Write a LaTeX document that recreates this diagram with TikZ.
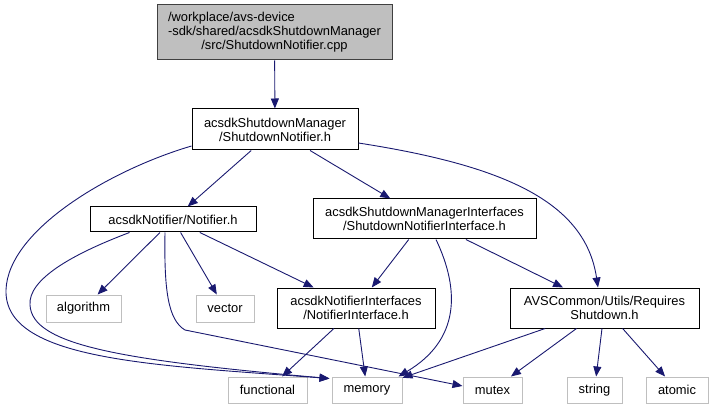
\documentclass[tikz,border=0pt]{standalone}
\usepackage{fontspec}
\setmainfont{Liberation Sans}
\usetikzlibrary{arrows.meta,positioning,calc}
\definecolor{edgeblue}{HTML}{191970}
\definecolor{sysgray}{HTML}{BFBFBF}
\definecolor{rootborder}{HTML}{404040}
\newlength\rootlinew

\begin{document}
\begin{tikzpicture}[
x=1pt, y=-1pt,
font=\fontsize{12.9}{14}\selectfont,
box/.style={draw=black, line width=1pt, inner sep=0pt, align=center},
sysbox/.style={draw=sysgray, line width=1pt, inner sep=0pt, minimum height=26pt},
arr/.style={-{Triangle[length=10pt,width=8pt]}, draw=edgeblue, line width=0.9pt}
]
\useasboundingbox (0,0) rectangle (713,409);

% files
\node[box, fill=sysgray, draw=rootborder, minimum width=235pt, minimum height=55pt] (root) at (274.5,32.5)
  {\settowidth\rootlinew{-sdk/shared/acsdkShutdownManager}%
   \makebox[\rootlinew][l]{/workplace/avs-device}\\-sdk/shared/acsdkShutdownManager\\/src/ShutdownNotifier.cpp};
\node[box, minimum width=166pt, minimum height=41pt] (sn) at (275,129.5) {acsdkShutdownManager\\/ShutdownNotifier.h};
\node[box, minimum width=166pt, minimum height=25pt] (notif) at (173,219.5) {acsdkNotifier/Notifier.h};
\node[box, minimum width=223pt, minimum height=40pt] (sni) at (424.5,219) {acsdkShutdownManagerInterfaces\\/ShutdownNotifierInterface.h};
\node[box, minimum width=158pt, minimum height=40pt] (ni) at (356,308) {acsdkNotifierInterfaces\\/NotifierInterface.h};
\node[box, minimum width=189pt, minimum height=40pt] (rs) at (604.5,308) {AVSCommon/Utils/Requires\\Shutdown.h};

% system headers
\node[sysbox, minimum width=75pt, minimum height=27pt] (algorithm) at (83.5,308.5) {algorithm};
\node[sysbox, minimum width=58pt, minimum height=27pt] (vector) at (225,308.5) {vector};
\node[sysbox, minimum width=79pt] (functional) at (267.5,390) {functional};
\node[sysbox, minimum width=70pt] (memory) at (367,390) {memory};
\node[sysbox, minimum width=59pt] (mutex) at (492.5,390) {mutex};
\node[sysbox, minimum width=55pt] (string) at (594.5,390) {string};
\node[sysbox, minimum width=62pt] (atomic) at (677,390) {atomic};

% includes
\draw[arr] (root) -- (sn);
\draw[arr] (sn) -- (notif);
\draw[arr] (sn) -- (sni);
\draw[arr] ($(sn.east)+(0,13.5)$) .. controls (500,165) and (585,200) .. ($(rs.north)+(-6.5,0)$);
\draw[arr] ($(sn.west)+(0,16.5)$) .. controls (110,170) and (8,230) .. (6,290)
  .. controls (4,360) and (150,365) .. ($(memory.north west)+(-2,2)$);

\draw[arr] ($(notif.south west)+(40,0)$) .. controls (70,255) and (28,280) .. (30,305)
  .. controls (32,345) and (120,360) .. ($(memory.north west)+(-2,2)$);
\draw[arr] (notif) -- (algorithm);
\draw[arr] ($(notif.south)+(-8,0)$) .. controls (164,290) and (168,320) .. (185,330)
  -- ($(mutex.west)+(0,-4)$);
\draw[arr] (notif) -- (vector);
\draw[arr] (notif) -- (ni);

\draw[arr] (sni) -- (ni);
\draw[arr] ($(sni.south)+(11.5,0)$) .. controls (460,290) and (460,340) .. ($(memory.north east)+(-4,0)$);
\draw[arr] (sni) -- (rs);

\draw[arr] (ni) -- (functional);
\draw[arr] (ni) -- (memory);

\draw[arr] (rs) -- (memory);
\draw[arr] (rs) -- (mutex);
\draw[arr] (rs) -- (string);
\draw[arr] (rs) -- (atomic);
\end{tikzpicture}
\end{document}
